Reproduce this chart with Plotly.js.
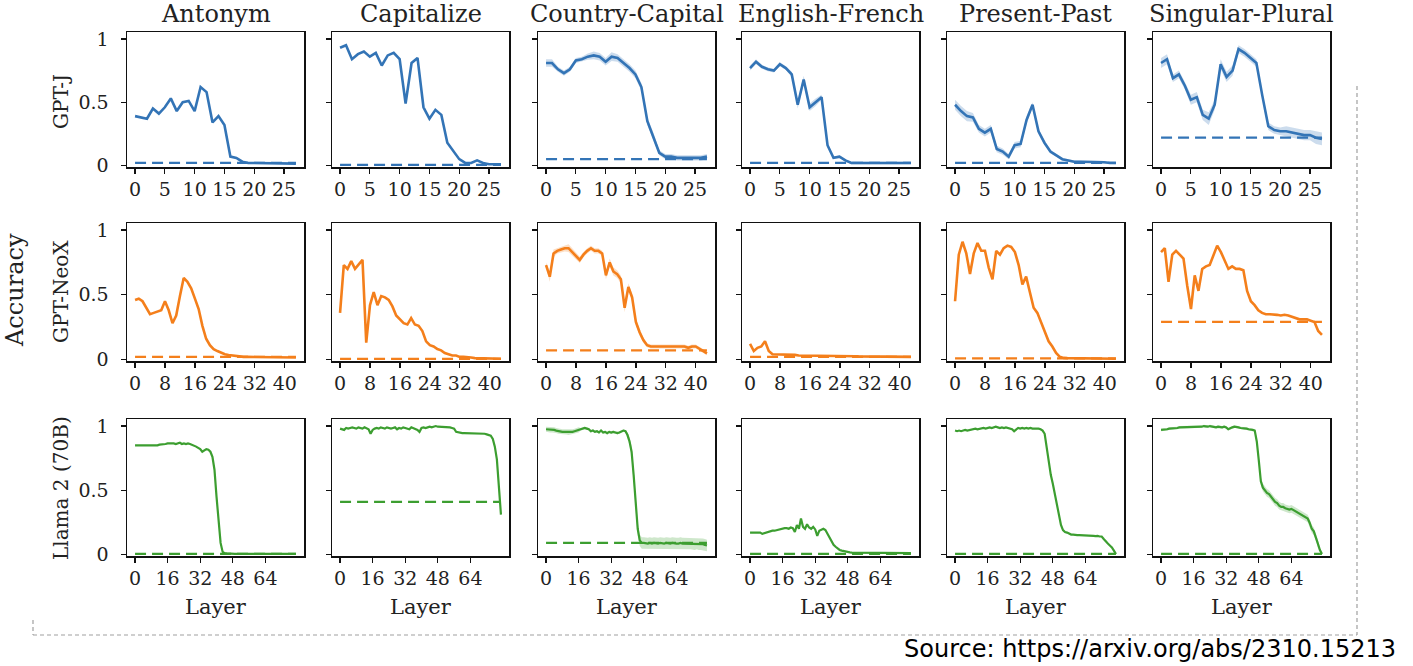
<!DOCTYPE html>
<html>
<head>
<meta charset="utf-8">
<script src="https://cdn.plot.ly/plotly-3.0.1.min.js"></script>
<style>html,body{margin:0;padding:0;background:#fff;}#chart{width:1413px;height:666px;}</style>
</head>
<body>
<div id="chart"></div>
<script>
// ---------- DATA ----------
const tasks = ['Antonym','Capitalize','Country-Capital','English-French','Present-Past','Singular-Plural'];
const models = ['GPT-J','GPT-NeoX','Llama 2 (70B)'];
const layerCounts = [28, 44, 80];
const xTickVals = [[0,5,10,15,20,25],[0,8,16,24,32,40],[0,16,32,48,64]];
const yTickVals = [0, 0.5, 1];
const yTickText = ['0','0.5','1'];

// GPT-J (28 layers)
const gptj_antonym = [0.39,0.38,0.37,0.45,0.41,0.46,0.53,0.43,0.50,0.51,0.43,0.62,0.58,0.34,0.39,0.32,0.07,0.06,0.03,0.02,0.02,0.02,0.02,0.02,0.02,0.015,0.015,0.015];
const gptj_capitalize = [0.93,0.95,0.84,0.88,0.90,0.86,0.89,0.79,0.87,0.89,0.84,0.49,0.81,0.85,0.46,0.37,0.44,0.40,0.18,0.11,0.05,0.02,0.02,0.04,0.02,0.01,0.01,0.01];
const gptj_countryCapital = [0.81,0.81,0.76,0.73,0.76,0.83,0.84,0.86,0.87,0.86,0.82,0.86,0.85,0.81,0.77,0.72,0.62,0.35,0.23,0.10,0.07,0.07,0.06,0.06,0.06,0.06,0.06,0.07];
const gptj_englishFrench = [0.77,0.82,0.78,0.76,0.75,0.80,0.77,0.72,0.48,0.68,0.46,0.50,0.54,0.16,0.06,0.07,0.04,0.02,0.02,0.02,0.02,0.02,0.02,0.02,0.02,0.02,0.02,0.02];
const gptj_presentPast = [0.48,0.43,0.39,0.38,0.29,0.26,0.29,0.13,0.11,0.07,0.16,0.17,0.36,0.48,0.27,0.18,0.11,0.08,0.05,0.04,0.03,0.03,0.03,0.03,0.03,0.025,0.02,0.02];
const gptj_singularPlural = [0.81,0.84,0.69,0.72,0.63,0.52,0.54,0.40,0.37,0.48,0.80,0.70,0.75,0.92,0.89,0.85,0.81,0.55,0.31,0.28,0.27,0.27,0.26,0.25,0.24,0.24,0.22,0.21];
const gptj_baseline = [0.02, 0.005, 0.05, 0.02, 0.02, 0.22];

const gptj_band_countryCapital = [0.03,0.03,0.02,0.02,0.02,0.02,0.02,0.025,0.03,0.03,0.03,0.035,0.03,0.03,0.03,0.03,0.03,0.03,0.03,0.02,0.02,0.02,0.02,0.02,0.02,0.02,0.02,0.02];
const gptj_band_englishFrench = [0.02,0.02,0.015,0.015,0.015,0.015,0.015,0.02,0.03,0.03,0.03,0.03,0.02,0.02,0.01,0.01,0.01,0.01,0.01,0.01,0.01,0.01,0.01,0.01,0.01,0.01,0.01,0.01];
const gptj_band_presentPast = [0.04,0.04,0.04,0.035,0.03,0.03,0.03,0.025,0.025,0.02,0.025,0.025,0.03,0.02,0.02,0.015,0.015,0.01,0.01,0.01,0.01,0.01,0.01,0.01,0.01,0.01,0.01,0.01];
const gptj_band_singularPlural = [0.04,0.04,0.03,0.03,0.03,0.04,0.04,0.04,0.05,0.04,0.04,0.04,0.04,0.03,0.03,0.03,0.03,0.03,0.03,0.03,0.03,0.04,0.04,0.04,0.04,0.04,0.05,0.05];

// GPT-NeoX (44 layers)
const neox_antonym = [0.46,0.47,0.45,0.40,0.35,0.36,0.37,0.38,0.45,0.38,0.28,0.34,0.49,0.63,0.60,0.55,0.47,0.39,0.26,0.16,0.11,0.08,0.065,0.05,0.04,0.035,0.03,0.025,0.022,0.02,0.02,0.02,0.02,0.02,0.02,0.02,0.02,0.018,0.018,0.018,0.016,0.016,0.015,0.015];
const neox_capitalize = [0.36,0.73,0.70,0.76,0.70,0.74,0.77,0.13,0.42,0.52,0.42,0.49,0.48,0.46,0.41,0.34,0.31,0.28,0.27,0.32,0.27,0.26,0.22,0.14,0.11,0.10,0.08,0.07,0.05,0.04,0.03,0.03,0.02,0.02,0.02,0.015,0.01,0.01,0.01,0.01,0.005,0.005,0.005,0.005];
const neox_countryCapital = [0.73,0.64,0.82,0.84,0.85,0.86,0.86,0.83,0.80,0.77,0.81,0.84,0.86,0.84,0.84,0.82,0.65,0.75,0.68,0.66,0.62,0.40,0.56,0.48,0.29,0.21,0.15,0.11,0.10,0.10,0.10,0.10,0.10,0.10,0.10,0.10,0.10,0.10,0.09,0.10,0.10,0.08,0.065,0.047];
const neox_englishFrench = [0.12,0.065,0.09,0.10,0.14,0.065,0.04,0.04,0.04,0.035,0.035,0.04,0.035,0.03,0.03,0.03,0.03,0.03,0.028,0.028,0.028,0.027,0.027,0.026,0.026,0.025,0.025,0.025,0.025,0.024,0.024,0.023,0.023,0.023,0.022,0.022,0.022,0.021,0.021,0.021,0.02,0.02,0.02,0.02];
const neox_presentPast = [0.45,0.81,0.91,0.82,0.66,0.82,0.90,0.84,0.84,0.71,0.62,0.84,0.81,0.86,0.88,0.87,0.83,0.73,0.58,0.64,0.52,0.40,0.36,0.29,0.21,0.14,0.10,0.05,0.02,0.012,0.01,0.01,0.008,0.008,0.007,0.007,0.006,0.006,0.006,0.005,0.005,0.005,0.005,0.005];
const neox_singularPlural = [0.83,0.86,0.60,0.81,0.84,0.81,0.78,0.57,0.39,0.65,0.53,0.70,0.72,0.73,0.81,0.88,0.83,0.77,0.70,0.72,0.70,0.70,0.69,0.53,0.45,0.42,0.38,0.36,0.35,0.35,0.35,0.345,0.34,0.345,0.34,0.33,0.32,0.31,0.31,0.31,0.30,0.29,0.22,0.19];
const neox_baseline = [0.02, 0.005, 0.07, 0.02, 0.008, 0.29];

const neox_band_countryCapital = [0.02,0.04,0.03,0.02,0.02,0.025,0.03,0.03,0.025,0.025,0.02,0.02,0.02,0.02,0.02,0.02,0.03,0.03,0.03,0.03,0.03,0.035,0.03,0.03,0.03,0.025,0.02,0.015,0.015,0.015,0.015,0.015,0.015,0.015,0.015,0.015,0.015,0.015,0.015,0.015,0.015,0.015,0.015,0.015];

// Llama 2 (70B) (80 layers)
const llama_antonym = [0.85,0.85,0.85,0.85,0.845,0.85,0.85,0.85,0.85,0.85,
 0.845,0.85,0.855,0.855,0.86,0.86,0.865,0.865,0.87,0.865,
 0.86,0.865,0.87,0.86,0.865,0.86,0.865,0.86,0.855,0.85,
 0.84,0.83,0.82,0.80,0.81,0.82,0.815,0.80,0.76,0.66,
 0.45,0.23,0.09,0.02,0.01,0.008,0.006,0.005,0.005,0.005,
 0.005,0.005,0.005,0.005,0.005,0.005,0.005,0.005,0.005,0.005,
 0.005,0.005,0.005,0.005,0.005,0.005,0.005,0.005,0.005,0.005,
 0.005,0.005,0.005,0.005,0.005,0.005,0.005,0.005,0.005,0.005];
const llama_capitalize = [0.98,0.975,0.97,0.985,0.98,0.985,0.99,0.985,0.98,0.99,
 0.985,0.98,0.99,0.985,0.975,0.94,0.97,0.98,0.985,0.98,
 0.99,0.985,0.98,0.99,0.985,0.98,0.985,0.99,0.975,0.985,
 0.98,0.99,0.985,0.98,0.975,0.99,0.985,0.98,0.97,0.955,
 0.985,0.99,0.985,0.99,0.995,0.99,0.995,1.0,0.995,0.995,
 0.995,0.995,0.99,0.995,0.99,0.985,0.98,0.955,0.95,0.945,
 0.945,0.945,0.945,0.945,0.94,0.945,0.94,0.945,0.94,0.945,
 0.94,0.94,0.935,0.93,0.925,0.90,0.84,0.74,0.55,0.31];
const llama_countryCapital = [0.975,0.975,0.97,0.97,0.97,0.965,0.96,0.96,0.955,0.955,
 0.955,0.95,0.95,0.955,0.96,0.965,0.97,0.975,0.98,0.985,
 0.98,0.975,0.96,0.965,0.955,0.96,0.95,0.965,0.95,0.955,
 0.945,0.955,0.95,0.955,0.95,0.945,0.95,0.96,0.965,0.96,
 0.93,0.88,0.80,0.62,0.40,0.20,0.11,0.09,0.09,0.085,
 0.085,0.09,0.085,0.09,0.085,0.085,0.09,0.085,0.085,0.09,
 0.085,0.085,0.09,0.085,0.085,0.085,0.09,0.085,0.085,0.085,
 0.085,0.085,0.085,0.08,0.085,0.08,0.08,0.08,0.075,0.07];
const llama_englishFrench = [0.17,0.17,0.17,0.17,0.165,0.17,0.16,0.165,0.175,0.18,
 0.18,0.185,0.185,0.19,0.19,0.195,0.2,0.205,0.205,0.2,
 0.21,0.205,0.175,0.23,0.2,0.28,0.215,0.2,0.235,0.21,
 0.2,0.215,0.195,0.145,0.185,0.195,0.2,0.19,0.16,0.125,
 0.1,0.075,0.06,0.045,0.035,0.03,0.025,0.02,0.018,0.016,
 0.015,0.015,0.015,0.014,0.014,0.014,0.013,0.013,0.013,0.012,
 0.012,0.012,0.012,0.011,0.011,0.011,0.011,0.01,0.01,0.01,
 0.01,0.01,0.01,0.01,0.01,0.01,0.01,0.01,0.01,0.01];
const llama_presentPast = [0.965,0.96,0.965,0.96,0.965,0.97,0.965,0.97,0.975,0.975,
 0.98,0.975,0.98,0.98,0.985,0.98,0.985,0.99,0.985,0.99,
 0.995,0.99,0.985,0.99,0.985,0.99,0.985,0.98,0.975,0.96,
 0.975,0.985,0.98,0.985,0.98,0.985,0.98,0.985,0.98,0.98,
 0.985,0.98,0.975,0.965,0.94,0.83,0.73,0.62,0.55,0.47,
 0.39,0.3,0.23,0.19,0.175,0.17,0.16,0.155,0.155,0.15,
 0.15,0.15,0.15,0.148,0.145,0.148,0.145,0.145,0.145,0.143,
 0.145,0.14,0.14,0.12,0.10,0.085,0.07,0.055,0.03,0.003];
const llama_singularPlural = [0.97,0.97,0.975,0.975,0.98,0.98,0.985,0.985,0.985,0.99,
 0.99,0.99,0.99,0.99,0.995,0.99,0.99,0.995,0.995,0.995,
 0.995,1.0,0.995,0.995,1.0,0.995,0.995,0.99,0.995,0.99,
 0.99,0.995,0.99,0.975,0.985,0.99,0.995,0.995,0.99,0.985,
 0.985,0.98,0.98,0.975,0.975,0.97,0.965,0.88,0.73,0.57,
 0.52,0.5,0.48,0.47,0.45,0.43,0.41,0.40,0.38,0.37,
 0.37,0.36,0.355,0.35,0.355,0.345,0.34,0.33,0.32,0.31,
 0.30,0.29,0.28,0.245,0.2,0.18,0.14,0.085,0.035,0.003];
const llama_baseline = [0.005, 0.41, 0.09, 0.005, 0.005, 0.005];

const llama_band_countryCapital = [0.02,0.02,0.02,0.02,0.02,0.02,0.02,0.02,0.02,0.02,
 0.02,0.02,0.02,0.02,0.02,0.02,0.02,0.01,0.01,0.01,
 0.01,0.01,0.01,0.01,0.01,0.01,0.01,0.01,0.01,0.01,
 0.01,0.01,0.01,0.01,0.01,0.01,0.01,0.01,0.01,0.01,
 0.02,0.03,0.04,0.05,0.05,0.05,0.045,0.045,0.045,0.045,
 0.045,0.045,0.045,0.045,0.045,0.045,0.045,0.045,0.045,0.045,
 0.045,0.045,0.045,0.045,0.045,0.045,0.045,0.045,0.045,0.045,
 0.045,0.045,0.045,0.045,0.045,0.045,0.045,0.045,0.045,0.045];
const llama_band_singularPlural = [0.01,0.01,0.01,0.01,0.01,0.01,0.01,0.01,0.01,0.01,
 0.01,0.01,0.01,0.01,0.01,0.01,0.01,0.01,0.01,0.01,
 0.01,0.01,0.01,0.01,0.01,0.01,0.01,0.01,0.01,0.01,
 0.01,0.01,0.01,0.01,0.01,0.01,0.01,0.01,0.01,0.01,
 0.01,0.01,0.01,0.01,0.01,0.01,0.01,0.03,0.03,0.03,
 0.03,0.03,0.03,0.03,0.03,0.03,0.03,0.03,0.03,0.03,
 0.03,0.03,0.03,0.03,0.03,0.03,0.03,0.03,0.03,0.03,
 0.03,0.03,0.03,0.03,0.03,0.03,0.03,0.03,0.01,0.005];

// ---------- TABLES BUILT FROM DATA ----------
const series = [
  [gptj_antonym, gptj_capitalize, gptj_countryCapital, gptj_englishFrench, gptj_presentPast, gptj_singularPlural],
  [neox_antonym, neox_capitalize, neox_countryCapital, neox_englishFrench, neox_presentPast, neox_singularPlural],
  [llama_antonym, llama_capitalize, llama_countryCapital, llama_englishFrench, llama_presentPast, llama_singularPlural]
];
const baselines = [gptj_baseline, neox_baseline, llama_baseline];
const bands = [
  [null, null, gptj_band_countryCapital, gptj_band_englishFrench, gptj_band_presentPast, gptj_band_singularPlural],
  [null, null, neox_band_countryCapital, null, null, null],
  [null, null, llama_band_countryCapital, null, null, llama_band_singularPlural]
];

// ---------- STYLE / LAYOUT ----------
const W = 1413, H = 666;
const colors = ['#3374b6', '#f47f1b', '#3c9e30'];
const bandColors = ['rgba(51,116,182,0.25)', 'rgba(244,127,27,0.25)', 'rgba(60,158,48,0.25)'];
const lineWidths = [2.6, 2.6, 2.2];
const colLeft = [127, 332, 538, 742, 947, 1153];
const colW = 177;
const rowTop = [32, 223, 419];
const rowBot = [167, 361, 556];
const serif = 'DejaVu Serif, serif';

const traces = [];
const layout = {
  width: W, height: H,
  margin: {l: 0, r: 0, t: 0, b: 0},
  paper_bgcolor: '#fff', plot_bgcolor: '#fff',
  showlegend: false,
  annotations: [], shapes: []
};

for (let r = 0; r < 3; r++) {
  const n = layerCounts[r];
  const layers = Array.from({length: n}, (_, i) => i);
  const pad = (n - 1) * 0.05;
  for (let c = 0; c < 6; c++) {
    const idx = r * 6 + c + 1;
    const xa = idx === 1 ? 'x' : 'x' + idx;
    const ya = idx === 1 ? 'y' : 'y' + idx;
    const xKey = idx === 1 ? 'xaxis' : 'xaxis' + idx;
    const yKey = idx === 1 ? 'yaxis' : 'yaxis' + idx;
    const vals = series[r][c];
    const band = bands[r][c];
    if (band) {
      const up = vals.map((v, i) => v + band[i]);
      const lo = vals.map((v, i) => v - band[i]);
      traces.push({
        type: 'scatter', mode: 'lines', xaxis: xa, yaxis: ya,
        x: layers.concat(layers.slice().reverse()),
        y: up.concat(lo.slice().reverse()),
        fill: 'toself', fillcolor: bandColors[r], line: {width: 0, color: 'rgba(0,0,0,0)'},
        hoverinfo: 'skip'
      });
    }
    traces.push({
      type: 'scatter', mode: 'lines', xaxis: xa, yaxis: ya,
      x: layers, y: vals,
      line: {color: colors[r], width: lineWidths[r]},
      hoverinfo: 'skip'
    });
    traces.push({
      type: 'scatter', mode: 'lines', xaxis: xa, yaxis: ya,
      x: [layers[0], layers[n - 1]], y: [baselines[r][c], baselines[r][c]],
      line: {color: colors[r], width: 2.3, dash: '11px,6px'},
      hoverinfo: 'skip'
    });

    const common = {
      showline: true, mirror: true, linecolor: '#111', linewidth: 1.5,
      ticks: 'outside', ticklen: 5, tickwidth: 1.3, tickcolor: '#111',
      showgrid: false, zeroline: false,
      tickfont: {family: serif, size: 19, color: '#222'},
      fixedrange: true
    };
    layout[xKey] = Object.assign({}, common, {
      domain: [colLeft[c] / W, (colLeft[c] + colW) / W],
      anchor: ya,
      range: [-pad, n - 1 + pad],
      tickmode: 'array', tickvals: xTickVals[r], ticktext: xTickVals[r].map(String)
    });
    layout[yKey] = Object.assign({}, common, {
      domain: [1 - rowBot[r] / H, 1 - rowTop[r] / H],
      anchor: xa,
      range: [-0.012, 1.055],
      tickmode: 'array', tickvals: yTickVals, ticktext: yTickText,
      showticklabels: c === 0,
      ticklabelstandoff: 8
    });
  }
}

// column titles
tasks.forEach((t, c) => {
  layout.annotations.push({
    text: t, xref: 'paper', yref: 'paper',
    x: (colLeft[c] + colW / 2) / W, y: 1 - 14 / H,
    xanchor: 'center', yanchor: 'middle', showarrow: false,
    font: {family: serif, size: 24, color: '#222'}
  });
});
// row labels
const rowLabelY = [102, 292, 488];
models.forEach((m, r) => {
  layout.annotations.push({
    text: m, xref: 'paper', yref: 'paper',
    x: 61 / W, y: 1 - rowLabelY[r] / H,
    xanchor: 'center', yanchor: 'middle', showarrow: false, textangle: -90,
    font: {family: serif, size: 20, color: '#222'}
  });
});
// Accuracy
layout.annotations.push({
  text: 'Accuracy', xref: 'paper', yref: 'paper',
  x: 15 / W, y: 1 - 290 / H, xanchor: 'center', yanchor: 'middle',
  showarrow: false, textangle: -90,
  font: {family: serif, size: 24, color: '#222'}
});
// Layer labels
for (let c = 0; c < 6; c++) {
  layout.annotations.push({
    text: 'Layer', xref: 'paper', yref: 'paper',
    x: (colLeft[c] + colW / 2) / W, y: 1 - 607 / H,
    xanchor: 'center', yanchor: 'middle', showarrow: false,
    font: {family: serif, size: 21, color: '#222'}
  });
}
// Source
layout.annotations.push({
  text: 'Source: https://arxiv.org/abs/2310.15213', xref: 'paper', yref: 'paper',
  x: 1398 / W, y: 1 - 649 / H, xanchor: 'right', yanchor: 'middle', showarrow: false,
  font: {family: 'DejaVu Sans, sans-serif', size: 24, color: '#000'}
});

// dashed frame
const dashLine = {color: '#a0a0a0', width: 1.2, dash: '4px,3px'};
layout.shapes.push(
  {type: 'line', xref: 'paper', yref: 'paper', x0: 33 / W, x1: 1357 / W, y0: 1 - 635 / H, y1: 1 - 635 / H, line: dashLine},
  {type: 'line', xref: 'paper', yref: 'paper', x0: 1357 / W, x1: 1357 / W, y0: 1 - 86 / H, y1: 1 - 635 / H, line: dashLine},
  {type: 'line', xref: 'paper', yref: 'paper', x0: 33 / W, x1: 33 / W, y0: 1 - 620 / H, y1: 1 - 635 / H, line: dashLine}
);

Plotly.newPlot('chart', traces, layout, {displayModeBar: false, staticPlot: true});
</script>
</body>
</html>
